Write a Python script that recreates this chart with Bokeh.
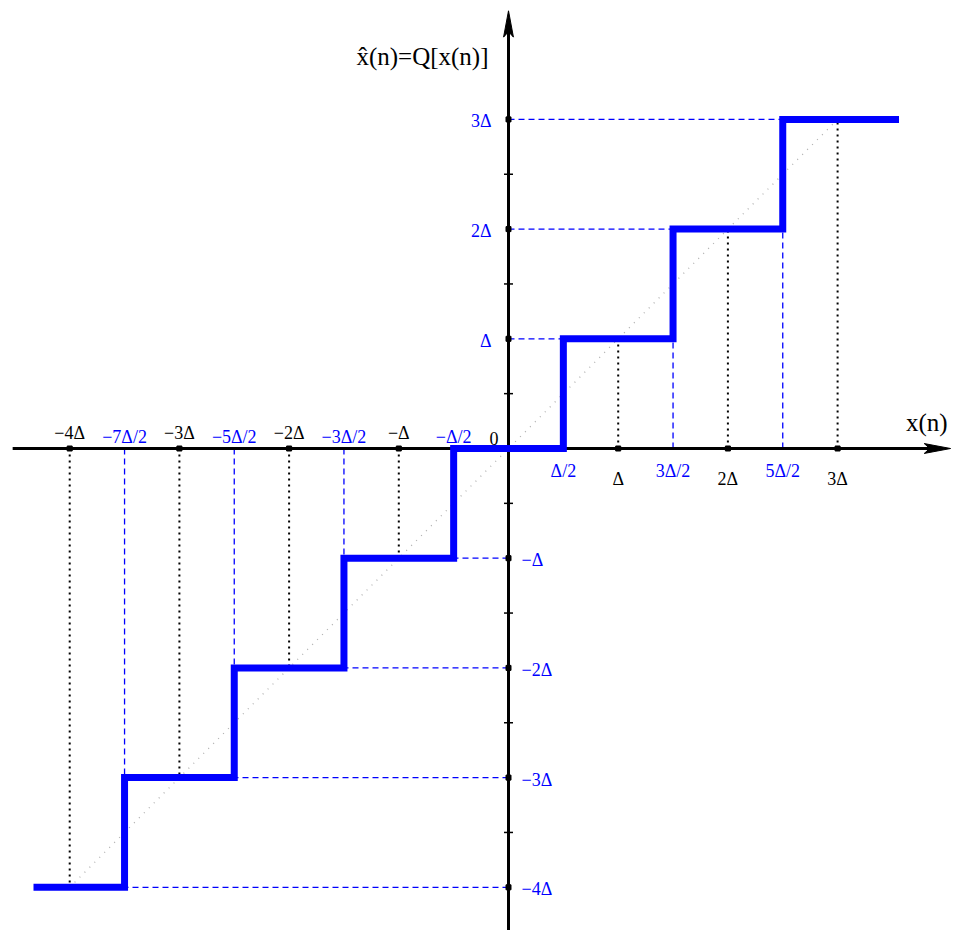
from bokeh.plotting import figure
from bokeh.models import Range1d
from bokeh.core.properties import value
from bokeh.embed import file_html
from bokeh.resources import INLINE

# ---- data (in units of Delta) ----
step_x = [-4.33, -3.5, -3.5, -2.5, -2.5, -1.5, -1.5, -0.5, -0.5, 0.5, 0.5, 1.5, 1.5, 2.5, 2.5, 3.56]
step_y = [-4, -4, -3, -3, -2, -2, -1, -1, 0, 0, 1, 1, 2, 2, 3, 3]

levels = [-4, -3, -2, -1, 1, 2, 3]
level_labels = ["\u22124\u0394", "\u22123\u0394", "\u22122\u0394", "\u2212\u0394", "\u0394", "2\u0394", "3\u0394"]

thresholds = [-3.5, -2.5, -1.5, -0.5, 0.5, 1.5, 2.5]
threshold_labels = ["\u22127\u0394/2", "\u22125\u0394/2", "\u22123\u0394/2", "\u2212\u0394/2", "\u0394/2", "3\u0394/2", "5\u0394/2"]

int_ticks = [-4, -3, -2, -1, 1, 2, 3]
int_tick_labels = ["\u22124\u0394", "\u22123\u0394", "\u22122\u0394", "\u2212\u0394", "\u0394", "2\u0394", "3\u0394"]

y_half_ticks = [-3.5, -2.5, -1.5, -0.5, 0.5, 1.5, 2.5]
y_int_ticks = [-4, -3, -2, -1, 1, 2, 3]

diag = [-4, 3]

FONT = value("Liberation Serif")
BLUE = "#0000ff"

W, H = 960, 930
PX = 109.7  # pixels per Delta
x0_px, y0_px = 508, 448
p = figure(width=W, height=H, output_backend="svg", toolbar_location=None,
           min_border=0, min_border_left=0, min_border_right=0, min_border_top=0, min_border_bottom=0,
           x_range=Range1d(-x0_px / PX, (W - x0_px) / PX),
           y_range=Range1d(-(H - y0_px) / PX, y0_px / PX))
p.axis.visible = False
p.grid.visible = False
p.outline_line_color = None
p.background_fill_color = "white"

# diagonal y = x (light grey dotted)
p.line(x=diag, y=diag, line_color="#b0b0b0", line_width=1.3, line_dash="1 6")

# black dotted verticals at integer multiples up to the diagonal
p.segment(x0=int_ticks, y0=[0] * len(int_ticks), x1=int_ticks, y1=int_ticks,
          line_color="black", line_width=2, line_dash="2 4")

# blue dashed verticals at thresholds from axis to staircase riser start
v_end = [t + 0.5 if t < 0 else t - 0.5 for t in thresholds]
p.segment(x0=thresholds, y0=[0] * len(thresholds), x1=thresholds, y1=v_end,
          line_color=BLUE, line_width=1.3, line_dash="6 4")

# blue dashed horizontals from y-axis to staircase
h_end = [L + 0.5 if L < 0 else L - 0.5 for L in levels]
p.segment(x0=[0] * len(levels), y0=levels, x1=h_end, y1=levels,
          line_color=BLUE, line_width=1.3, line_dash="6 4")

# axes
XL, XR = -4.52, 4.03
YB, YT = -4.5, 3.99
p.segment(x0=[XL, 0], y0=[0, YB], x1=[XR - 0.1, 0], y1=[0, YT - 0.1], line_color="black", line_width=3)
ah_len, ah_w, ah_notch = 0.24, 0.045, 0.19
p.patch(x=[XR, XR - ah_len, XR - ah_notch, XR - ah_len], y=[0, ah_w, 0, -ah_w], color="black")
p.patch(x=[0, ah_w, 0, -ah_w], y=[YT, YT - ah_len, YT - ah_notch, YT - ah_len], color="black")

# staircase
p.line(x=step_x, y=step_y, line_color=BLUE, line_width=7, line_join="miter")

# tick marks
p.scatter(x=int_ticks, y=[0] * len(int_ticks), marker="square", size=5, color="black")
p.scatter(x=[0] * len(y_int_ticks), y=y_int_ticks, marker="square", size=5, color="black")
p.scatter(x=[0] * len(y_half_ticks), y=y_half_ticks, marker="dash", size=9, line_color="black", line_width=1.5)

# x tick labels: negatives above axis, positives below
neg_i = [i for i, v in enumerate(int_ticks) if v < 0]
pos_i = [i for i, v in enumerate(int_ticks) if v > 0]
neg_t = [i for i, v in enumerate(thresholds) if v < 0]
pos_t = [i for i, v in enumerate(thresholds) if v > 0]

FS = "18px"
common = dict(text_font=FONT, text_font_size=FS, text_align="center")
p.text(x=[int_ticks[i] for i in neg_i], y=[0] * len(neg_i), text=[int_tick_labels[i] for i in neg_i],
       text_baseline="alphabetic", y_offset=-16, text_color="black", **common)
p.text(x=[thresholds[i] for i in neg_t], y=[0] * len(neg_t), text=[threshold_labels[i] for i in neg_t],
       text_baseline="alphabetic", y_offset=-12, text_color=BLUE, **common)
p.text(x=[int_ticks[i] for i in pos_i], y=[0] * len(pos_i), text=[int_tick_labels[i] for i in pos_i],
       text_baseline="top", y_offset=20, text_color="black", **common)
p.text(x=[thresholds[i] for i in pos_t], y=[0] * len(pos_t), text=[threshold_labels[i] for i in pos_t],
       text_baseline="top", y_offset=12, text_color=BLUE, **common)

# origin label
p.text(x=[0], y=[0], text=["0"], text_font=FONT, text_font_size=FS, text_align="right",
       text_baseline="alphabetic", x_offset=-10, y_offset=-10, text_color="black")

# y tick labels: positives left of axis, negatives right
pos_l = [i for i, v in enumerate(levels) if v > 0]
neg_l = [i for i, v in enumerate(levels) if v < 0]
p.text(x=[0] * len(pos_l), y=[levels[i] for i in pos_l], text=[level_labels[i] for i in pos_l],
       text_font=FONT, text_font_size=FS, text_align="right", text_baseline="middle",
       x_offset=-17, y_offset=2, text_color=BLUE)
p.text(x=[0] * len(neg_l), y=[levels[i] for i in neg_l], text=[level_labels[i] for i in neg_l],
       text_font=FONT, text_font_size=FS, text_align="left", text_baseline="middle",
       x_offset=13, y_offset=2, text_color=BLUE)

# axis titles
p.text(x=[XR], y=[0], text=["x(n)"], text_font=FONT, text_font_size="25px", text_align="right",
       text_baseline="alphabetic", x_offset=-3, y_offset=-26, text_color="black")
p.text(x=[0], y=[YT], text=["x\u0302(n)=Q[x(n)]"], text_font=FONT, text_font_size="25px",
       text_align="right", text_baseline="alphabetic", x_offset=-20, y_offset=46, text_color="black")

open("out.html", "w").write(file_html(p, INLINE))
